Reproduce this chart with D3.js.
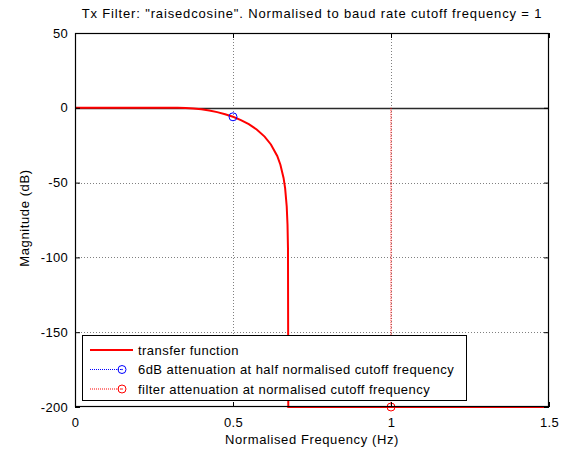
<!DOCTYPE html>
<html><head><meta charset="utf-8">
<script src="https://cdn.jsdelivr.net/npm/d3@7/dist/d3.min.js"></script>
<style>body{margin:0;background:#fff}svg{display:block;font-family:"Liberation Sans",Arial,sans-serif}</style>
</head><body><svg id="c" width="574" height="449"></svg>
<script>
const titleText = 'Tx Filter: "raisedcosine". Normalised to baud rate cutoff frequency = 1';
const xLabel = "Normalised Frequency (Hz)";
const yLabel = "Magnitude (dB)";
const xTicks = [0, 0.5, 1, 1.5];
const yTicks = [50, 0, -50, -100, -150, -200];
const xTickLabels = ["0", "0.5", "1", "1.5"];
const yTickLabels = ["50", "0", "-50", "-100", "-150", "-200"];
const freq = [0, 0.1, 0.2, 0.3, 0.325, 0.35, 0.375, 0.4, 0.425, 0.45, 0.475, 0.5, 0.525, 0.55, 0.575, 0.6, 0.62, 0.64, 0.65, 0.66, 0.665, 0.67, 0.6725, 0.674, 0.675, 0.8, 1.0, 1.2, 1.5];
const magDb = [0, 0, 0, 0, 0, -0.11, -0.44, -1.0, -1.81, -2.89, -4.28, -6.02, -8.21, -10.96, -14.51, -19.24, -24.49, -32.23, -38.03, -46.9, -53.9, -66.0, -78.0, -94.0, -200, -200, -200, -200, -200];
const halfPoint = [0.5, -6.02];
const cutoffLine = [[1, 0], [1, -200]];
const cutoffPoint = [1, -200];
const legendLabels = ["transfer function", "6dB attenuation at half normalised cutoff frequency", "filter attenuation at normalised cutoff frequency"];

const svg = d3.select("#c");
const L = 75, R = 549, T = 33, B = 407;
const x = d3.scaleLinear().domain([0, 1.5]).range([L, R]);
const y = d3.scaleLinear().domain([-200, 50]).range([B, T]);
const font = "13px";

svg.append("rect").attr("x", L).attr("y", T).attr("width", R - L).attr("height", B - T).attr("fill", "#fff");

// grid
const g = svg.append("g");
g.selectAll(".gx").data(xTicks.filter(d => d > 0 && d < 1.5)).enter().append("line")
  .attr("x1", d => Math.round(x(d)) + 0.5).attr("x2", d => Math.round(x(d)) + 0.5)
  .attr("y1", T).attr("y2", B).attr("stroke", "#808080").attr("stroke-dasharray", "1,2");
g.selectAll(".gy").data(yTicks.filter(d => d > -200 && d < 50 && d !== 0)).enter().append("line")
  .attr("y1", d => Math.round(y(d)) + 0.5).attr("y2", d => Math.round(y(d)) + 0.5)
  .attr("x1", L).attr("x2", R).attr("stroke", "#808080").attr("stroke-dasharray", "1,2");
// zero line
g.append("line").attr("x1", L).attr("x2", R).attr("y1", Math.round(y(0)) + 0.5).attr("y2", Math.round(y(0)) + 0.5)
  .attr("stroke", "#2a2a2a").attr("stroke-width", 1.3);

// cutoff red dotted line
const line = d3.line().x(d => x(d[0])).y(d => y(d[1]));
svg.append("path").attr("d", line(cutoffLine)).attr("fill", "none").attr("stroke", "#ff0000")
  .attr("stroke-width", 1).attr("stroke-dasharray", "1,1");

// transfer function
svg.append("path").attr("d", line(freq.map((f, i) => [f, magDb[i]]))).attr("fill", "none")
  .attr("stroke", "#ff0000").attr("stroke-width", 2);

// markers
svg.append("circle").attr("cx", x(halfPoint[0])).attr("cy", y(halfPoint[1])).attr("r", 4)
  .attr("fill", "none").attr("stroke", "#0000ff").attr("stroke-width", 1);
svg.append("circle").attr("cx", x(cutoffPoint[0])).attr("cy", y(cutoffPoint[1])).attr("r", 4)
  .attr("fill", "none").attr("stroke", "#ff0000").attr("stroke-width", 1);

// axes box
svg.append("rect").attr("x", L + 0.5).attr("y", T + 0.5).attr("width", R - L - 1).attr("height", B - T - 1)
  .attr("fill", "none").attr("stroke", "#000").attr("stroke-width", 1.2);

// ticks via d3 axes (inward)
const axB = d3.axisBottom(x).tickValues(xTicks).tickSize(-5).tickFormat((d, i) => xTickLabels[i]).tickPadding(11);
const axT = d3.axisTop(x).tickValues(xTicks).tickSize(-5).tickFormat("");
const axL = d3.axisLeft(y).tickValues(yTicks).tickSize(-5).tickFormat((d, i) => yTickLabels[i]).tickPadding(7);
const axRt = d3.axisRight(y).tickValues(yTicks).tickSize(-5).tickFormat("");
function style(sel) {
  sel.select(".domain").remove();
  sel.selectAll("line").attr("stroke", "#000");
  sel.selectAll("text").attr("fill", "#000").style("font-size", font).style("letter-spacing", "0.3px")
    .style("font-family", '"Liberation Sans",Arial,sans-serif');
}
svg.append("g").attr("transform", `translate(0,${B})`).call(axB).call(style);
svg.append("g").attr("transform", `translate(0,${T})`).call(axT).call(style);
svg.append("g").attr("transform", `translate(${L},0)`).call(axL).call(style);
svg.append("g").attr("transform", `translate(${R},0)`).call(axRt).call(style);

// labels
svg.append("text").attr("x", 312).attr("y", 18).attr("text-anchor", "middle").style("font-size", font)
  .style("letter-spacing", "0.85px").text(titleText);
svg.append("text").attr("x", 312).attr("y", 444).attr("text-anchor", "middle").style("font-size", font)
  .style("letter-spacing", "0.6px").text(xLabel);
svg.append("text").attr("transform", "translate(29,218) rotate(-90)").attr("text-anchor", "middle").style("font-size", font)
  .style("letter-spacing", "0.6px").text(yLabel);

// legend
const lg = svg.append("g");
lg.append("rect").attr("x", 82.5).attr("y", 335.5).attr("width", 384).attr("height", 65).attr("fill", "#fff")
  .attr("stroke", "#000").attr("stroke-width", 1);
const rows = [350, 369.5, 389];
const colors = ["#ff0000", "#0000ff", "#ff0000"];
legendLabels.forEach((t, i) => {
  const yy = rows[i];
  lg.append("line").attr("x1", 90).attr("x2", i === 0 ? 133 : 122).attr("y1", yy).attr("y2", yy)
    .attr("stroke", colors[i]).attr("stroke-width", i === 0 ? 2 : 1).attr("stroke-dasharray", i === 0 ? null : "1,1");
  if (i > 0) {
    lg.append("circle").attr("cx", 122).attr("cy", yy).attr("r", 4).attr("fill", "none").attr("stroke", colors[i]);
    lg.append("circle").attr("cx", 122).attr("cy", yy).attr("r", 0.8).attr("fill", colors[i]);
  }
  lg.append("text").attr("x", 138).attr("y", yy + 4.5).style("font-size", font).style("letter-spacing", "0.45px").text(t);
});
</script></body></html>
